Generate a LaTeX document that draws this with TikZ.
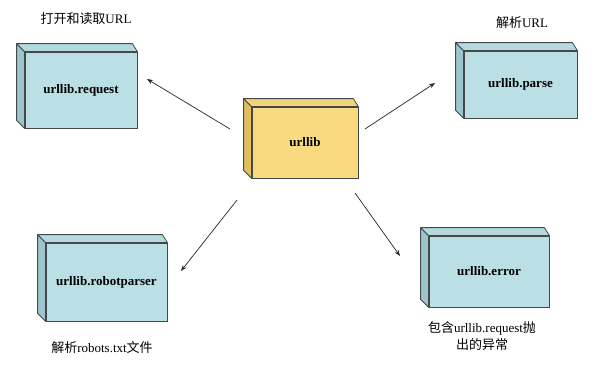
\documentclass[tikz,border=0pt]{standalone}
\usepackage{fontspec}
\setmainfont{Liberation Serif}
\newfontfamily\cjk{Noto Sans CJK SC}
\usetikzlibrary{arrows.meta}
\definecolor{pkgblue}{HTML}{BAE0E5}
\definecolor{pkgbluetop}{HTML}{B4DAE0}
\definecolor{pkgblueside}{HTML}{9CC6CD}
\definecolor{pkgyel}{HTML}{F8DA80}
\definecolor{pkgyeltop}{HTML}{F2D47A}
\definecolor{pkgyelside}{HTML}{E3BE5E}
\definecolor{pkgline}{HTML}{474747}
\tikzset{
  pkg/.style   = {draw=pkgline, line width=0.8pt, fill=pkgblue, inner sep=0pt,
                  font=\fontsize{13}{15}\selectfont\bfseries},
  core/.style  = {pkg, fill=pkgyel},
  side/.style  = {draw=pkgline, line width=0.8pt, line join=round, fill=pkgblueside},
  top/.style   = {side, fill=pkgbluetop},
  coreside/.style = {side, fill=pkgyelside},
  coretop/.style  = {side, fill=pkgyeltop},
  fl/.style    = {-{Stealth[length=6pt, width=4.5pt]}, line width=0.7pt, draw=black!85},
  note/.style  = {font=\fontsize{13}{17}\selectfont, align=center, inner sep=0pt},
}
% left and top faces of a package box
\newcommand{\pkgfaces}[3]{%
  \filldraw[#2] (#1.north west) -- ++(-8,-8) -- ([shift={(-8,-8)}]#1.south west)
    -- (#1.south west) -- cycle;
  \filldraw[#3] (#1.north west) -- ++(-8,-8) -- ([shift={(-5,-8)}]#1.north east)
    -- (#1.north east) -- cycle;}
\begin{document}
\begin{tikzpicture}[x=1pt, y=-1pt]
\useasboundingbox (0,0) rectangle (600,380);
% --- package boxes ---------------------------------------------------------
\node[core, minimum width=106pt, minimum height=71pt] (lib)   at (305,142.5) {urllib};
\node[pkg,  minimum width=112pt, minimum height=76pt] (req)   at (81,90)     {urllib.request};
\node[pkg,  minimum width=113pt, minimum height=67pt] (parse) at (520.5,84.5) {urllib.parse};
\node[pkg,  minimum width=121pt, minimum height=78pt] (robot) at (106.5,282) {urllib.robotparser};
\node[pkg,  minimum width=120pt, minimum height=71pt] (err)   at (489,271.5) {urllib.error};
\pkgfaces{lib}{coreside}{coretop}
\foreach \n in {req,parse,robot,err} {\pkgfaces{\n}{side}{top}}

% --- notes -----------------------------------------------------------------
\node[note] (reqnote)   at (86,19)  {{\cjk 打开和读取}URL};
\node[note] (parsenote) at (522,23) {{\cjk 解析}URL};
\node[note] (robotnote) at (102,348) {{\cjk 解析}robots.txt{\cjk 文件}};
\node[note] (errnote)   at (482,336.5) {{\cjk 包含}urllib.request{\cjk 抛}\\{\cjk 出的异常}};

% --- arrows ----------------------------------------------------------------
\coordinate (reqtail)   at (230,129);
\coordinate (reqhead)   at (147,79);
\coordinate (parsetail) at (365,129);
\coordinate (parsehead) at (435,83);
\coordinate (robottail) at (237,200);
\coordinate (robothead) at (181,271);
\coordinate (errtail)   at (355,193);
\coordinate (errhead)   at (400,256);
\foreach \n in {req,parse,robot,err} {\draw[fl] (\n tail) -- (\n head);}
\end{tikzpicture}
\end{document}
